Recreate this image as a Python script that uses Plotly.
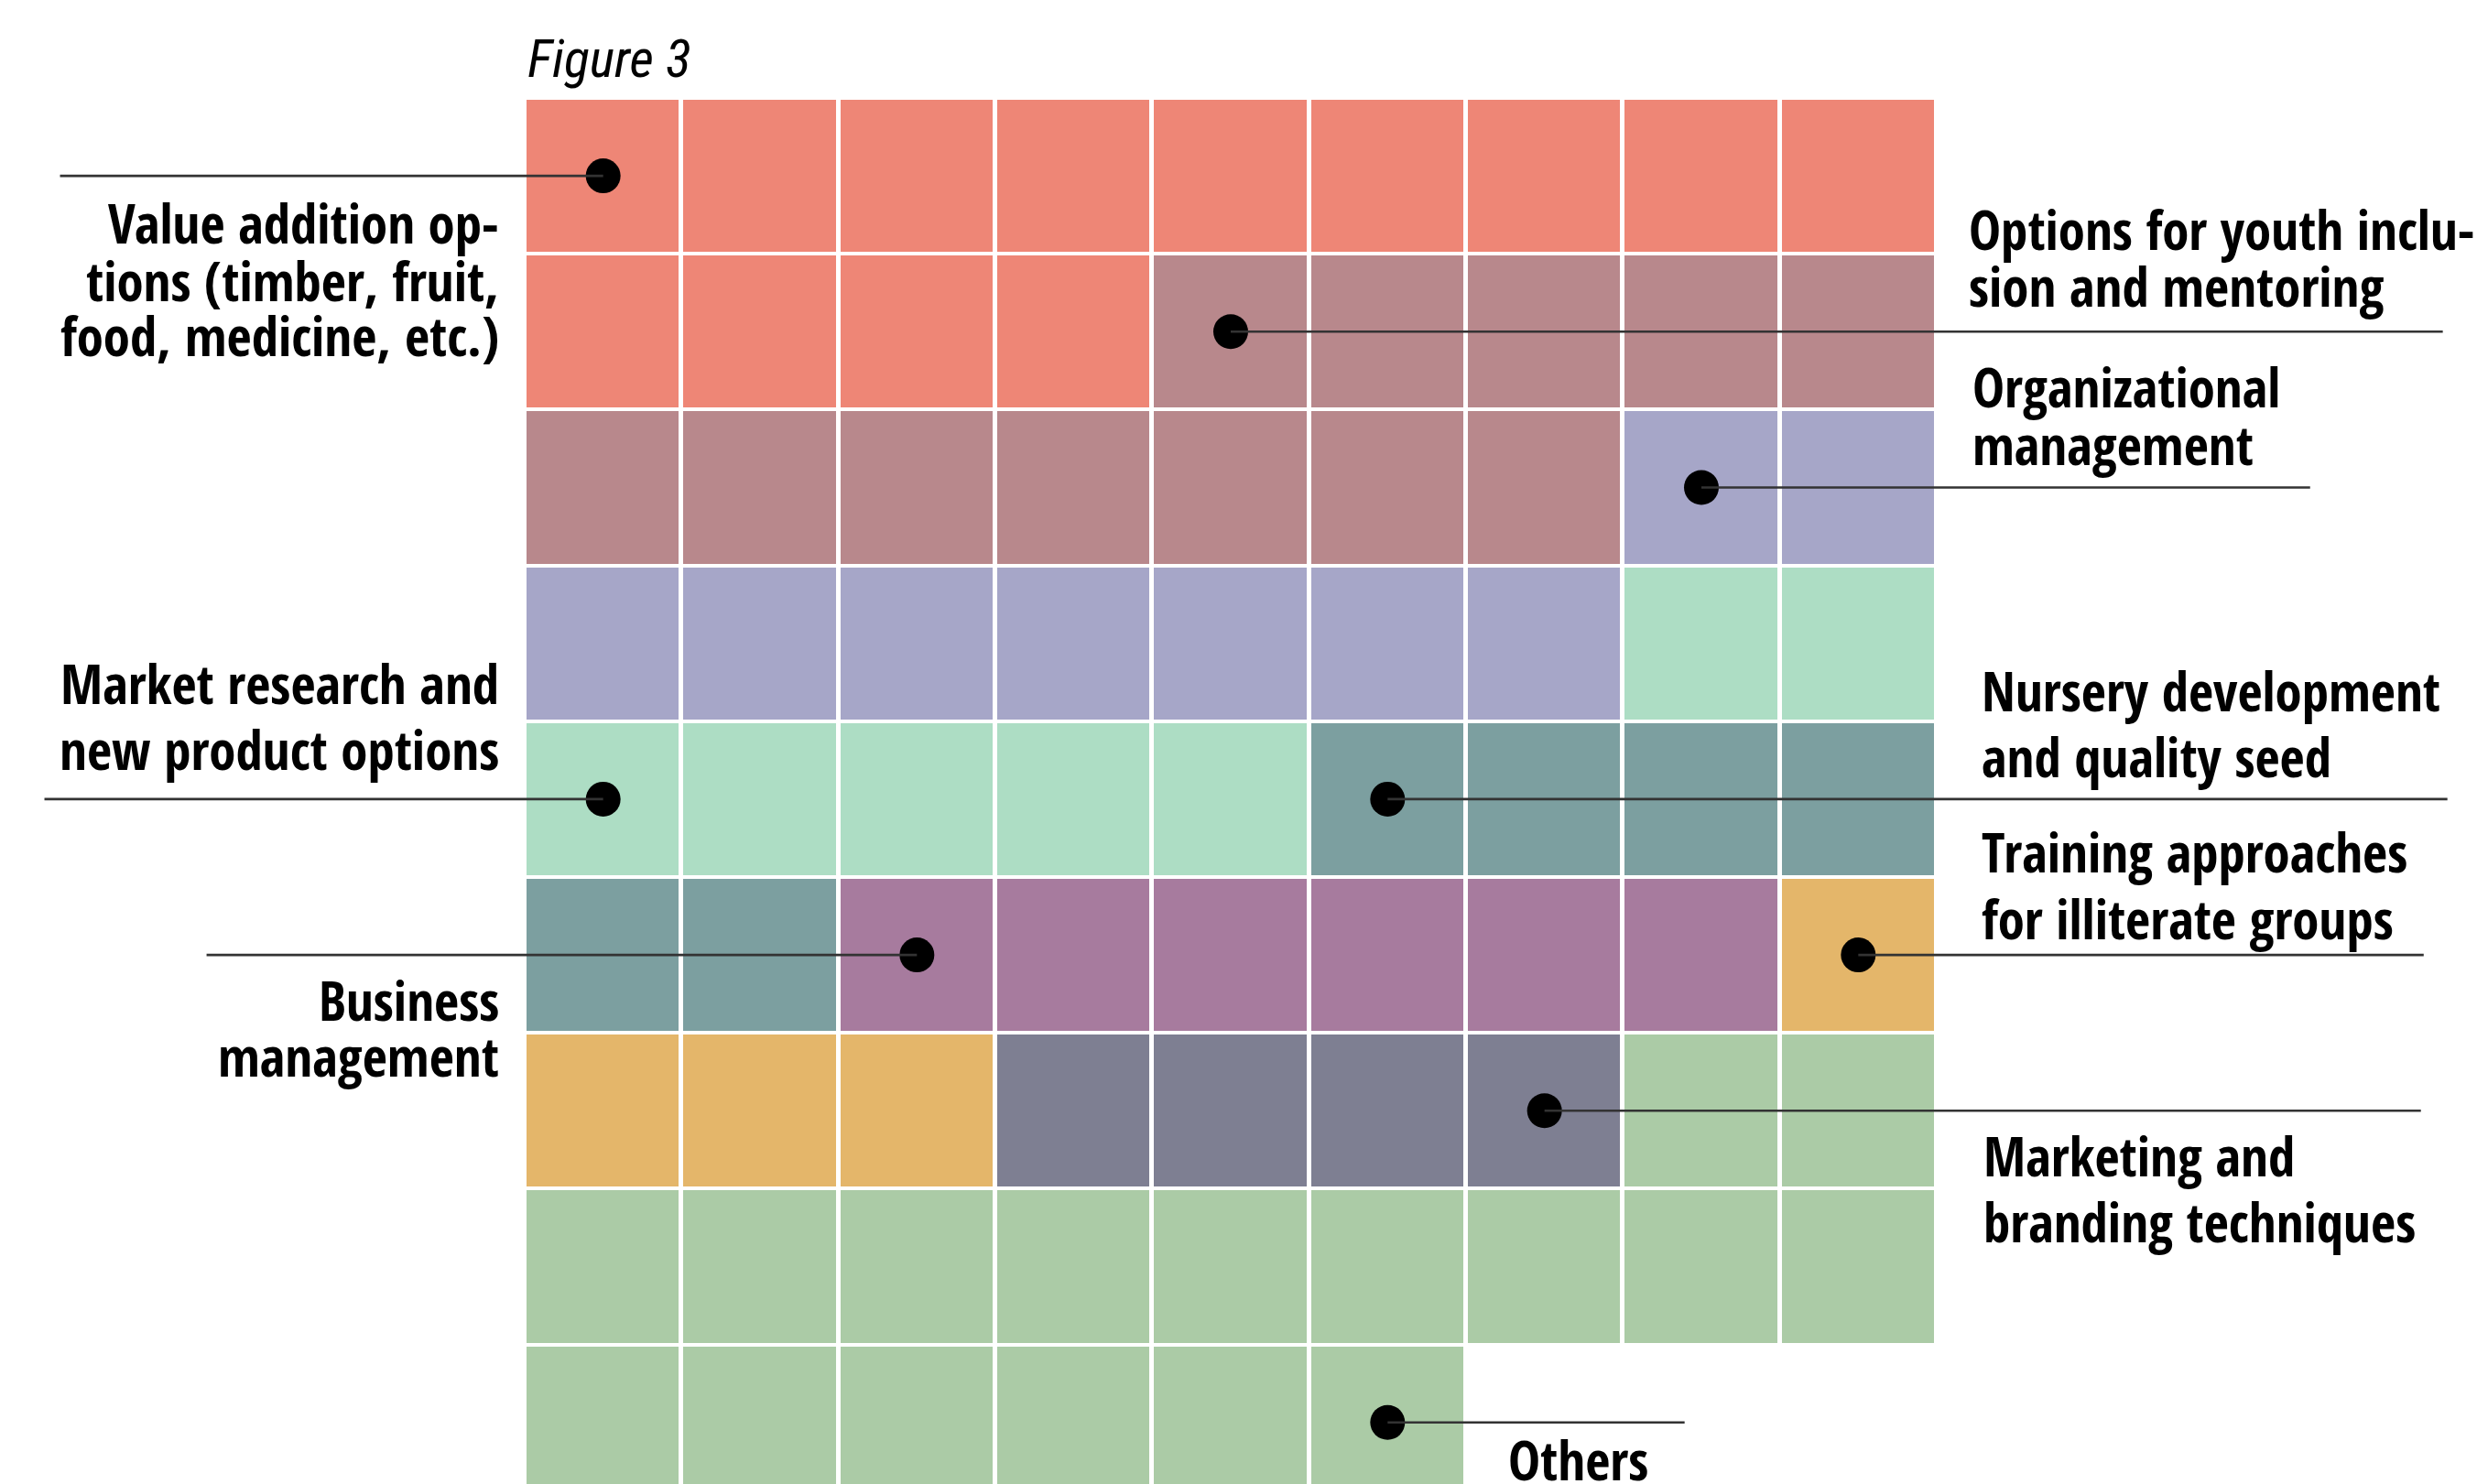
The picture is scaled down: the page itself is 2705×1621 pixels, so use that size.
import numpy as np
import plotly.graph_objects as go

# ---- data -------------------------------------------------------------
categories = [
    "Value addition options (timber, fruit, food, medicine, etc.)",
    "Options for youth inclusion and mentoring",
    "Organizational management",
    "Market research and new product options",
    "Nursery development and quality seed",
    "Business management",
    "Training approaches for illiterate groups",
    "Marketing and branding techniques",
    "Others",
]
counts = [13, 12, 9, 7, 6, 6, 4, 4, 17]
colors = ["#EE8676", "#B8888C", "#A6A6C8", "#ADDDC4", "#7C9FA0",
          "#A77B9E", "#E4B66A", "#7E7F92", "#ABCBA6"]
label_lines = [
    ["Value addition op-", "tions (timber, fruit,", "food, medicine, etc.)"],
    ["Options for youth inclu-", "sion and mentoring"],
    ["Organizational", "management"],
    ["Market research and", "new product options"],
    ["Nursery development", "and quality seed"],
    ["Business", "management"],
    ["Training approaches", "for illiterate groups"],
    ["Marketing and", "branding techniques"],
    ["Others"],
]
# square (within each block) that carries the marker dot
dot_square = [0, 0, 0, 2, 0, 0, 0, 3, 16]

# ---- layout geometry (pixels) ------------------------------------------
W, H = 2705, 1621
NCOL = 9
PITCH_X, PITCH_Y = 171.3, 170.2
L, T = 573, 107
PLOT_W = NCOL * PITCH_X
PLOT_H = H - T
Y_BOTTOM = -0.5 + PLOT_H / PITCH_Y

# label placement: (side, anchor px, line-centre px list, leader end px)
label_pos = [
    ("right", 547, [243.5, 305.5, 365.5], 64),
    ("left", 2148, [250.5, 312.5], 2669),
    ("left", 2152, [422.5, 484.5], 2524),
    ("right", 547, [745.5, 817.5], 47),
    ("left", 2162, [753.5, 826.5], 2674),
    ("right", 547, [1091.5, 1152.5], 224),
    ("left", 2162, [929.5, 1002.5], 2648),
    ("left", 2164, [1261.5, 1333.5], 2645),
    ("left", 1645, [1594], 1841),
]

FONT = "Open Sans Condensed, Roboto Condensed, DejaVu Sans Condensed, sans-serif"
TITLE_FONT = "Roboto Condensed, Open Sans Condensed, sans-serif"


def px_x(px):
    return (px - L) / PLOT_W


def px_y(py):
    return 1 - (py - T) / PLOT_H


# ---- waffle grid -------------------------------------------------------
seq = np.repeat(np.arange(len(counts)), counts)
nrows = int(np.ceil(len(seq) / NCOL))
z = np.full(nrows * NCOL, np.nan)
z[:len(seq)] = seq
z = z.reshape(nrows, NCOL)

n = len(colors)
colorscale = []
for i, c in enumerate(colors):
    colorscale.append([i / n, c])
    colorscale.append([(i + 1) / n, c])

fig = go.Figure()
fig.add_trace(go.Heatmap(
    z=z, x=list(range(NCOL)), y=list(range(nrows)),
    colorscale=colorscale, zmin=-0.5, zmax=n - 0.5,
    xgap=5, ygap=4, showscale=False, hoverinfo="skip",
))

# marker dots
starts = np.concatenate([[0], np.cumsum(counts)[:-1]])
dot_idx = starts + np.array(dot_square)
dot_col = dot_idx % NCOL
dot_row = dot_idx // NCOL
fig.add_trace(go.Scatter(
    x=dot_col, y=dot_row, mode="markers",
    marker=dict(size=38, color="black"),
    hoverinfo="skip", showlegend=False,
))

annotations = []
for k, (side, ax_px, ys, end_px) in enumerate(label_pos):
    # leader line from dot to label
    dot_px = L + (dot_col[k] + 0.5) * PITCH_X
    annotations.append(dict(
        x=int(dot_col[k]), y=int(dot_row[k]), xref="x", yref="y",
        text="", showarrow=True, arrowhead=0, arrowwidth=2.6,
        arrowcolor="#333333", ax=end_px - dot_px, ay=0, standoff=0,
        font=dict(size=1),
    ))
    for line, py in zip(label_lines[k], ys):
        annotations.append(dict(
            x=px_x(ax_px), y=px_y(py), xref="paper", yref="paper",
            text=line, showarrow=False,
            xanchor="right" if side == "right" else "left",
            yanchor="middle",
            font=dict(family=FONT, size=59, color="black", weight="bold"),
        ))

annotations.append(dict(
    x=px_x(574), y=px_y(64), xref="paper", yref="paper",
    text="Figure 3", showarrow=False, xanchor="left", yanchor="middle",
    font=dict(family=TITLE_FONT, size=58, color="black", style="italic"),
))

fig.update_layout(
    width=W, height=H,
    margin=dict(l=L, r=W - L - PLOT_W, t=T, b=0, pad=0, autoexpand=False),
    paper_bgcolor="white", plot_bgcolor="white",
    xaxis=dict(range=[-0.5, NCOL - 0.5], visible=False, fixedrange=True),
    yaxis=dict(range=[Y_BOTTOM, -0.5], visible=False, fixedrange=True),
    annotations=annotations, showlegend=False,
)

fig.write_html("out.html")
